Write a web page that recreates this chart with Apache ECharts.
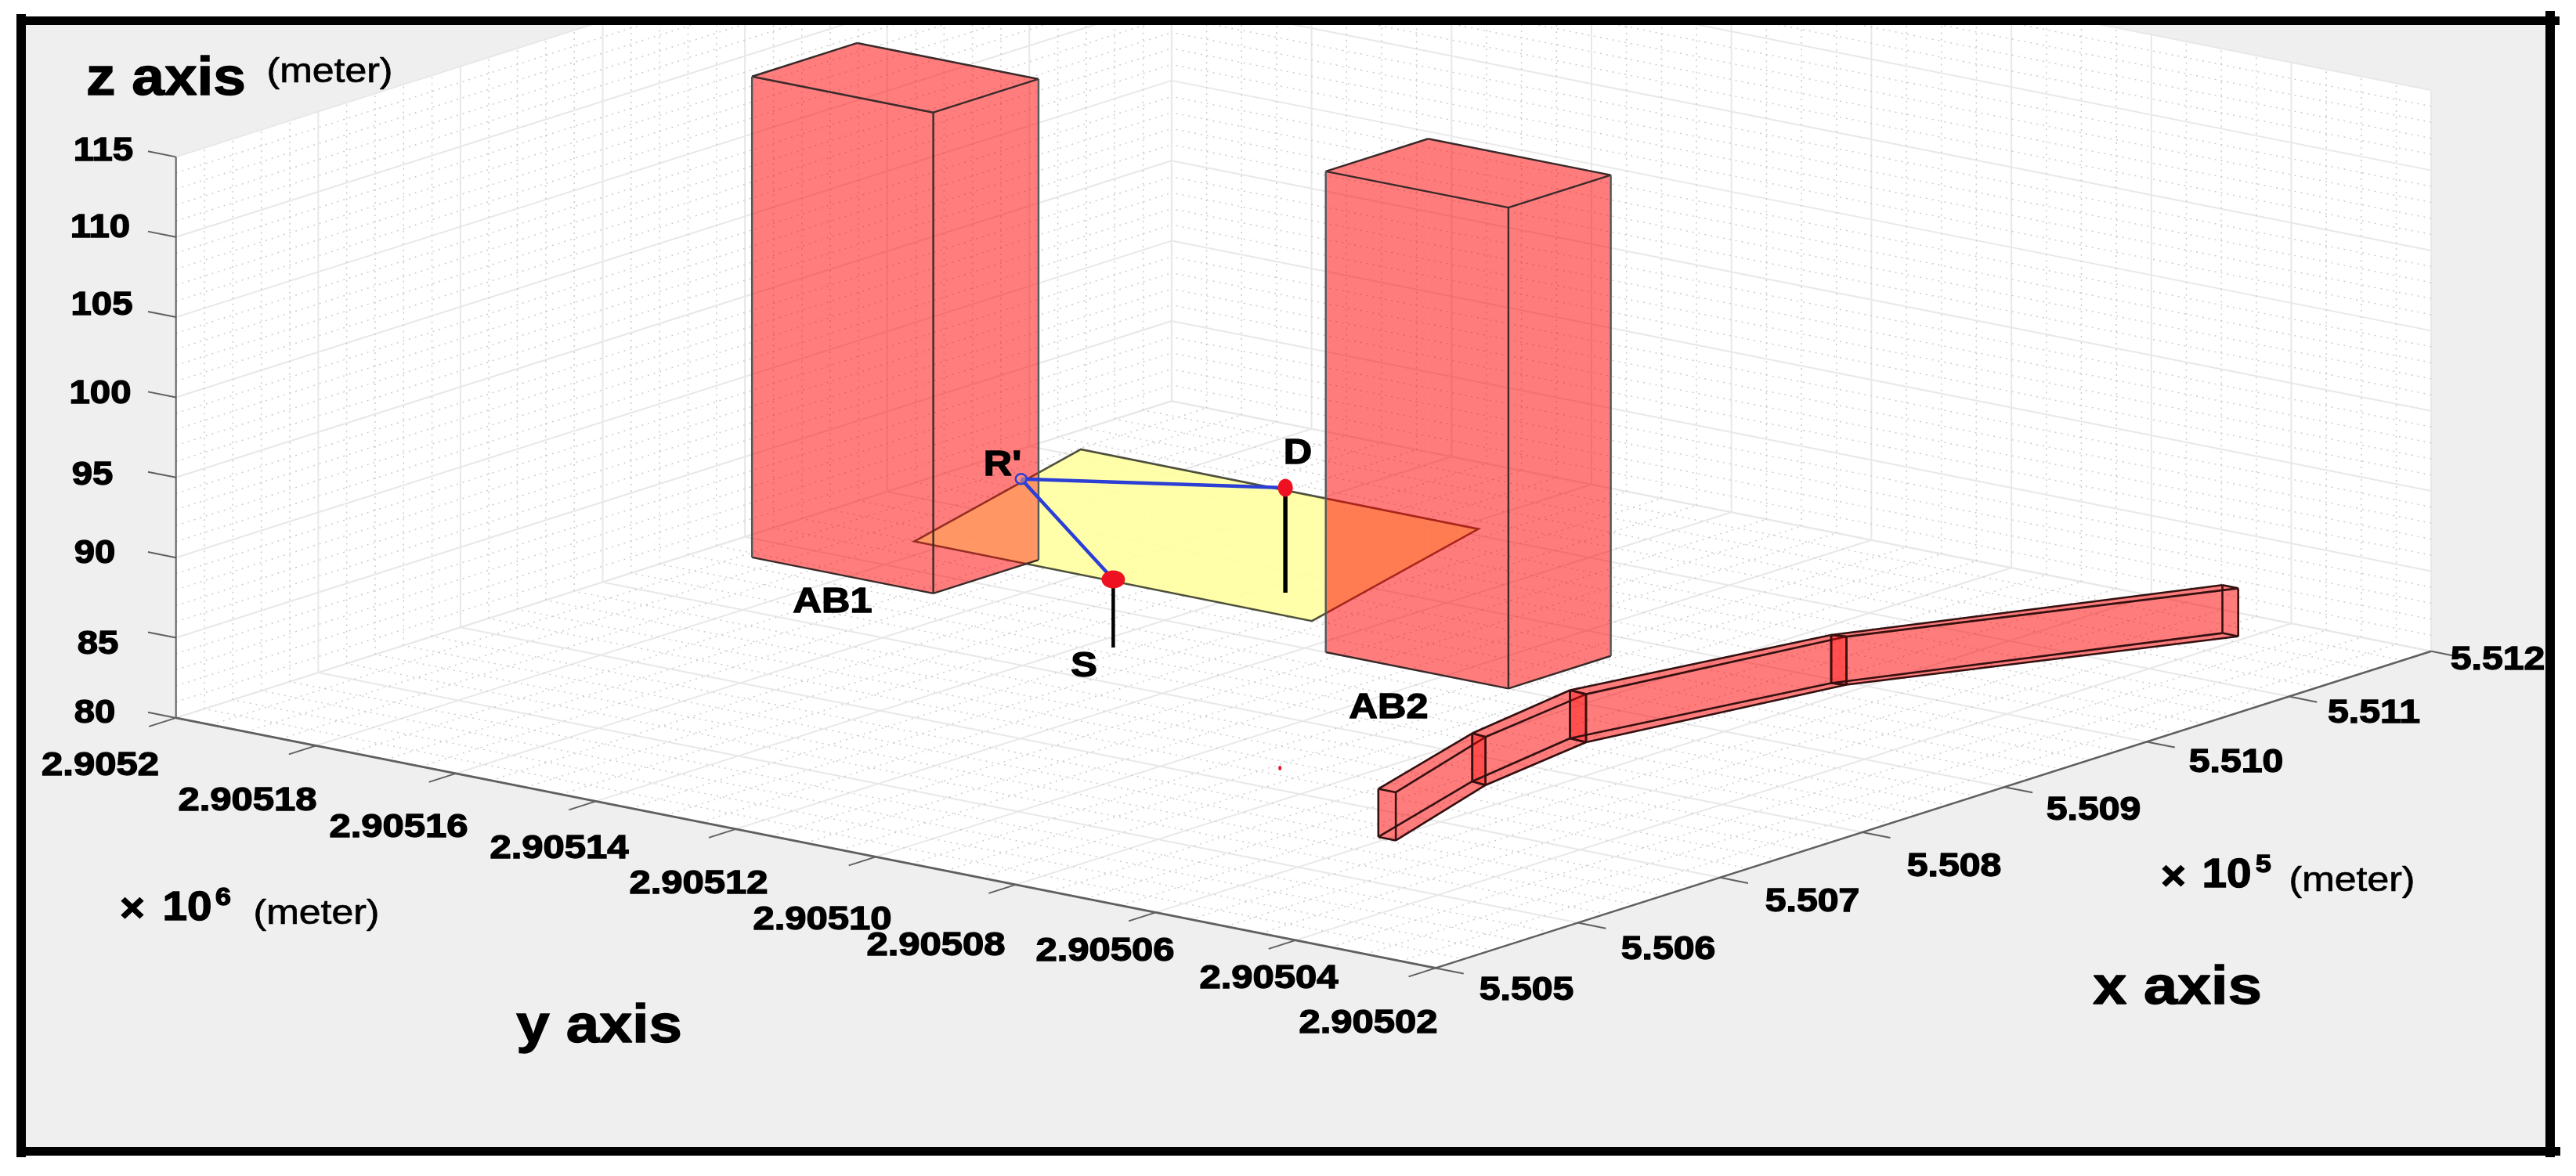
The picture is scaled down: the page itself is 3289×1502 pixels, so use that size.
<!DOCTYPE html>
<html>
<head>
<meta charset="utf-8">
<style>html,body{margin:0;padding:0;background:#fff}#c{width:3289px;height:1502px}</style>
<script src="https://cdn.jsdelivr.net/npm/echarts@6/dist/echarts.min.js"></script>
</head>
<body>
<div id="c"></div>
<script>
// ---------- Axis ticks (x in 10^5 m, y in 10^6 m, z in m)
const xTicks = [5.505, 5.506, 5.507, 5.508, 5.509, 5.510, 5.511, 5.512];
const xTickLabels = ['5.505', '5.506', '5.507', '5.508', '5.509', '5.510', '5.511', '5.512'];
const yTicks = [2.9052, 2.90518, 2.90516, 2.90514, 2.90512, 2.9051, 2.90508, 2.90506, 2.90504, 2.90502];
const yTickLabels = ['2.9052', '2.90518', '2.90516', '2.90514', '2.90512', '2.90510', '2.90508', '2.90506', '2.90504', '2.90502'];
const zTicks = [80, 85, 90, 95, 100, 105, 110, 115];
const zTickLabels = ['80', '85', '90', '95', '100', '105', '110', '115'];

// ---------- Buildings
const ab1X = [5.50874, 5.50948];
const ab1Y = [2.9051678, 2.9051937];
const ab1Z = [80, 110];
const ab2X = [5.50900, 5.50972];
const ab2Y = [2.9050909, 2.905117];
const ab2Z = [80, 110];

// ---------- Tilted reflecting plane (left, back, right, front)
const planeX = [5.50847, 5.50964, 5.50963, 5.50846];
const planeY = [2.905165, 2.905165, 2.905108, 2.905108];
const planeZ = [84.25, 86.69, 86.69, 84.25];

// ---------- Points
const sourcePoint = [5.50849, 2.905137, 84.25];
const destPoint = [5.50970, 2.905137, 86.55];
const relayPoint = [5.50922, 2.905165, 86.03];
const strayPoint = [5.50730, 2.905089, 80];

// ---------- Curved road barrier (five stations, two edges)
const roadBackX = [5.506629, 5.507639, 5.508489, 5.509946, 5.511683];
const roadBackY = [2.9050613, 2.9050684, 2.9050717, 2.9050640, 2.9050434];
const roadFrontX = [5.506629, 5.507624, 5.508478, 5.509965, 5.511681];
const roadFrontY = [2.9050588, 2.9050662, 2.9050692, 2.9050622, 2.9050411];
const roadZ = [80, 83];

// ---------- View of the 3-D box (orthographic) onto a flat sheet
const view = { ox: 1833, oy: 1236.4, xu: [181.6, -57.8], yu: [-178.7, -35.5], zu: -20.472 };
function project(p) {
  const a = (p[0] - 5.505) / 0.001, b = (p[1] - 2.90502) / 0.00002, c = p[2] - 80;
  return [view.ox + view.xu[0] * a + view.yu[0] * b, view.oy + view.xu[1] * a + view.yu[1] * b + view.zu * c];
}

// ---------- Text placement on the sheet
const zLabelPos = [[121, 911], [125, 823], [121, 707], [118, 607], [128, 503], [130, 390], [128, 291], [132, 193]];
const yLabelPos = [[128, 978], [316, 1023], [509, 1057], [714, 1084], [892, 1129], [1050, 1175], [1195, 1208], [1411, 1215], [1620, 1250], [1747, 1307]];
const xLabelPos = [[1949, 1265], [2130, 1213], [2314, 1152], [2495, 1107], [2673, 1035], [2855, 974], [3031, 911], [3189, 843]];
const TICK = 'bold 43px "Liberation Sans"';
const BIG = 'bold 68px "Liberation Sans"';
const UNIT = '45px "Liberation Sans"';
const MARK = 'bold 45px "Liberation Sans"';
const EXP = 'bold 52px "Liberation Sans"';
const SUP = 'bold 31px "Liberation Sans"';
const notes = [
  ['z axis', 212, 102, BIG, 1.1], ['(meter)', 421, 93, UNIT, 1.11],
  ['y axis', 765, 1312, BIG, 1.12], ['x axis', 2780, 1263, BIG, 1.14],
  ['×', 169, 1163, EXP, 1.05], ['10', 239, 1161, EXP, 1.09], ['6', 285, 1147, SUP, 1.15], ['(meter)', 404, 1168, UNIT, 1.11],
  ['×', 2775, 1122, EXP, 1.05], ['10', 2843, 1119, EXP, 1.09], ['5', 2890, 1105, SUP, 1.15], ['(meter)', 3003, 1126, UNIT, 1.11],
  ['AB1', 1063, 770, MARK, 1.12], ['AB2', 1773, 905, MARK, 1.12],
  ['S', 1384, 852, MARK, 1.12], ['D', 1657, 580, MARK, 1.12], ["R'", 1280, 595, MARK, 1.12]
];

// ---------- Primitive builders
const xMin = xTicks[0], xMax = xTicks[xTicks.length - 1];
const yMax = yTicks[0], yMin = yTicks[yTicks.length - 1];
const zMin = zTicks[0], zMax = zTicks[zTicks.length - 1];
const poly = (pts, fill, opacity, stroke, width) => ({ k: 'poly', pts, fill, opacity, stroke, width });
const line = (a, b, stroke, width, dash) => ({ k: 'line', a, b, stroke, width, dash });

const MAJOR = '#e8e8e8', MINOR = '#cccccc';
const minorDash = [2, 6];
const backdrop = [], majors = [], minors = [];
backdrop.push(poly([[xMin, yMax, zMin], [xMax, yMax, zMin], [xMax, yMax, zMax], [xMin, yMax, zMax]], '#fff', 1));
backdrop.push(poly([[xMax, yMin, zMin], [xMax, yMax, zMin], [xMax, yMax, zMax], [xMax, yMin, zMax]], '#fff', 1));
backdrop.push(poly([[xMin, yMin, zMin], [xMax, yMin, zMin], [xMax, yMax, zMin], [xMin, yMax, zMin]], '#fff', 1));

function gridAt(v, isMajor, axis) {
  const out = isMajor ? majors : minors;
  const c = isMajor ? MAJOR : MINOR, w = isMajor ? 2 : 1.5, d = isMajor ? null : minorDash;
  if (axis === 'x') {
    out.push(line([v, yMax, zMin], [v, yMax, zMax], c, w, d));
    out.push(line([v, yMin, zMin], [v, yMax, zMin], c, w, d));
  } else if (axis === 'y') {
    out.push(line([xMax, v, zMin], [xMax, v, zMax], c, w, d));
    out.push(line([xMin, v, zMin], [xMax, v, zMin], c, w, d));
  } else {
    out.push(line([xMin, yMax, v], [xMax, yMax, v], c, w, d));
    out.push(line([xMax, yMin, v], [xMax, yMax, v], c, w, d));
  }
}
xTicks.forEach((v, i) => {
  gridAt(v, true, 'x');
  if (i < xTicks.length - 1) for (let k = 1; k < 5; k++) gridAt(v + (xTicks[i + 1] - v) * k / 5, false, 'x');
});
yTicks.forEach((v, i) => {
  gridAt(v, true, 'y');
  if (i < yTicks.length - 1) for (let k = 1; k < 4; k++) gridAt(v + (yTicks[i + 1] - v) * k / 4, false, 'y');
});
zTicks.forEach((v, i) => {
  gridAt(v, true, 'z');
  if (i < zTicks.length - 1) for (let k = 1; k < 5; k++) gridAt(v + (zTicks[i + 1] - v) * k / 5, false, 'z');
});

const AXIS = '#5f5f5f';
const axes = [
  line([xMin, yMax, zMin], [xMin, yMin, zMin], AXIS, 3),
  line([xMin, yMin, zMin], [xMax, yMin, zMin], AXIS, 2.5),
  line([xMin, yMax, zMin], [xMin, yMax, zMax], AXIS, 2)
];
zTicks.forEach(z => axes.push(line([xMin, yMax, z], [xMin, yMax + 0.000004, z], AXIS, 2)));
yTicks.forEach(y => axes.push(line([xMin, y, zMin], [xMin - 0.00019, y, zMin], AXIS, 2)));
xTicks.forEach(x => axes.push(line([x, yMin, zMin], [x, yMin - 0.000004, zMin], AXIS, 2)));

const RED = '#ff0000', EDGE = '#3a2a2a', SIDE = '#4d5a5a';
function faces(X, Y, Z) {
  const c = (i, j, k) => [X[i], Y[j], Z[k]];
  return {
    back: [[c(0,0,0), c(1,0,0), c(1,1,0), c(0,1,0)], [c(1,0,0), c(1,1,0), c(1,1,1), c(1,0,1)], [c(0,1,0), c(1,1,0), c(1,1,1), c(0,1,1)]],
    front: [[c(0,0,1), c(1,0,1), c(1,1,1), c(0,1,1)], [c(0,0,0), c(0,1,0), c(0,1,1), c(0,0,1)], [c(0,0,0), c(1,0,0), c(1,0,1), c(0,0,1)]],
    edges: [
      [c(0,1,1), c(1,1,1), EDGE], [c(1,1,1), c(1,0,1), EDGE], [c(1,0,1), c(0,0,1), EDGE], [c(0,0,1), c(0,1,1), EDGE],
      [c(0,0,0), c(0,0,1), EDGE], [c(0,0,0), c(0,1,0), EDGE], [c(0,0,0), c(1,0,0), EDGE],
      [c(0,1,0), c(0,1,1), SIDE], [c(1,0,0), c(1,0,1), SIDE]
    ]
  };
}
const ab1 = faces(ab1X, ab1Y, ab1Z), ab2 = faces(ab2X, ab2Y, ab2Z);
const edgesOf = f => f.edges.map(e => line(e[0], e[1], e[2], 2.4));

const ab1Back = ab1.back.map(p => poly(p, RED, 0.18));
const plane = [poly(planeX.map((x, i) => [x, planeY[i], planeZ[i]]), '#ffffa0', 0.9, '#3c3c2c', 2.6)];
const ab1Front = ab1.front.map(p => poly(p, RED, 0.4)).concat(edgesOf(ab1));
const ab2All = ab2.back.concat(ab2.front).map(p => poly(p, RED, 0.3)).concat(edgesOf(ab2));

const road = [];
const lastStation = roadBackX.length - 2;
for (let i = 0; i <= lastStation; i++) {
  const b0 = z => [roadBackX[i], roadBackY[i], z], f0 = z => [roadFrontX[i], roadFrontY[i], z];
  const b1 = z => [roadBackX[i + 1], roadBackY[i + 1], z], f1 = z => [roadFrontX[i + 1], roadFrontY[i + 1], z];
  const lo = roadZ[0], hi = roadZ[1];
  [[b0(lo), f0(lo), f1(lo), b1(lo)], [b0(hi), f0(hi), f1(hi), b1(hi)],
   [b0(lo), b1(lo), b1(hi), b0(hi)], [f0(lo), f1(lo), f1(hi), f0(hi)]].forEach(p => road.push(poly(p, RED, 0.3)));
  road.push(poly([b0(lo), f0(lo), f0(hi), b0(hi)], RED, i === 0 ? 0.3 : 0.2));
  road.push(poly([b1(lo), f1(lo), f1(hi), b1(hi)], RED, i === lastStation ? 0.3 : 0.2));
  const E = '#341010';
  [[b0(lo), b1(lo)], [f0(lo), f1(lo)], [b0(hi), b1(hi)], [f0(hi), f1(hi)],
   [b0(lo), f0(lo)], [b1(lo), f1(lo)], [b0(hi), f0(hi)], [b1(hi), f1(hi)],
   [b0(lo), b0(hi)], [f0(lo), f0(hi)], [b1(lo), b1(hi)], [f1(lo), f1(hi)]].forEach(s => road.push(line(s[0], s[1], E, 2.6)));
}

const BLUE = '#2b3fd6';
const links = [
  line([sourcePoint[0], sourcePoint[1], zMin], sourcePoint, '#000', 4.5),
  line([destPoint[0], destPoint[1], zMin], destPoint, '#000', 5.5),
  line(relayPoint, sourcePoint, BLUE, 4.5),
  line(relayPoint, destPoint, BLUE, 4.5),
  { k: 'dot', p: sourcePoint, rx: 15, ry: 11.5, fill: '#ee1122' },
  { k: 'dot', p: destPoint, rx: 9.5, ry: 11.5, fill: '#ee1122' },
  { k: 'dot', p: strayPoint, rx: 2, ry: 3, fill: '#ee1122' },
  { k: 'dot', p: relayPoint, rx: 7, ry: 6.5, fill: 'rgba(255,160,120,0.5)', stroke: BLUE, width: 2.5 }
];

const texts = [];
zTickLabels.forEach((t, i) => texts.push([t, zLabelPos[i][0], zLabelPos[i][1], TICK, 1.1]));
yTickLabels.forEach((t, i) => texts.push([t, yLabelPos[i][0], yLabelPos[i][1], TICK, 1.14]));
xTickLabels.forEach((t, i) => texts.push([t, xLabelPos[i][0], xLabelPos[i][1], TICK, 1.12]));
notes.forEach(n => texts.push(n));
const textPrims = texts.map(t => ({ k: 'text', text: t[0], at: [t[1], t[2]], font: t[3], sx: t[4], heavy: t[3] !== UNIT }));

// ---------- Rendering through the hidden value axes
function makeSeries(name, prims, z) {
  return {
    type: 'custom', name, coordinateSystem: 'cartesian2d', clip: true, silent: true,
    animation: false, progressive: 0, z,
    data: prims.map((_, i) => [i, i]),
    renderItem(params, api) {
      const p = prims[params.dataIndex];
      const at = q => api.coord(project(q));
      if (p.k === 'poly') {
        return { type: 'polygon', shape: { points: p.pts.map(at) },
          style: { fill: p.fill, opacity: p.opacity, stroke: p.stroke || null, lineWidth: p.width || 0 } };
      }
      if (p.k === 'line') {
        const a = at(p.a), b = at(p.b);
        return { type: 'line', shape: { x1: a[0], y1: a[1], x2: b[0], y2: b[1] },
          style: { stroke: p.stroke, lineWidth: p.width, lineDash: p.dash || null, fill: null } };
      }
      if (p.k === 'dot') {
        const c = at(p.p);
        return { type: 'ellipse', shape: { cx: c[0], cy: c[1], rx: p.rx, ry: p.ry },
          style: { fill: p.fill, stroke: p.stroke || null, lineWidth: p.width || 0 } };
      }
      const c = api.coord(p.at);
      return { type: 'text', x: c[0], y: c[1], scaleX: p.sx,
        style: { text: p.text, font: p.font, fill: '#000', stroke: '#000', lineWidth: p.heavy ? 1.4 : 0.7,
          align: 'center', verticalAlign: 'middle' } };
    }
  };
}

const inner = { left: 33, top: 31, right: 3250, bottom: 1465 };
const chart = echarts.init(document.getElementById('c'), null, { renderer: 'canvas' });
chart.setOption({
  animation: false,
  backgroundColor: '#ffffff',
  tooltip: { show: false },
  grid: { show: true, left: inner.left, top: inner.top, width: inner.right - inner.left, height: inner.bottom - inner.top,
    backgroundColor: '#efefef', borderWidth: 0 },
  xAxis: { type: 'value', min: inner.left, max: inner.right, show: false },
  yAxis: { type: 'value', min: inner.top, max: inner.bottom, inverse: true, show: false },
  series: [
    makeSeries('Walls and floor', backdrop, 1),
    makeSeries('Major grid', majors, 2),
    makeSeries('Minor grid', minors, 3),
    makeSeries('Axes', axes, 4),
    makeSeries('AB1 rear', ab1Back, 5),
    makeSeries('Plane', plane, 6),
    makeSeries('AB1 front', ab1Front, 7),
    makeSeries('AB2', ab2All, 8),
    makeSeries('Road barrier', road, 9),
    makeSeries('Links', links, 10),
    makeSeries('Labels', textPrims, 11)
  ],
  graphic: { elements: [
    { type: 'rect', z: 100, shape: { x: 21, y: 21, width: 3247, height: 11 }, style: { fill: '#000' } },
    { type: 'rect', z: 100, shape: { x: 21, y: 18, width: 12, height: 1460 }, style: { fill: '#000' } },
    { type: 'rect', z: 100, shape: { x: 3250, y: 14, width: 12, height: 1464 }, style: { fill: '#000' } },
    { type: 'rect', z: 100, shape: { x: 21, y: 1465, width: 3248, height: 11 }, style: { fill: '#000' } }
  ] }
});
</script>
</body>
</html>
